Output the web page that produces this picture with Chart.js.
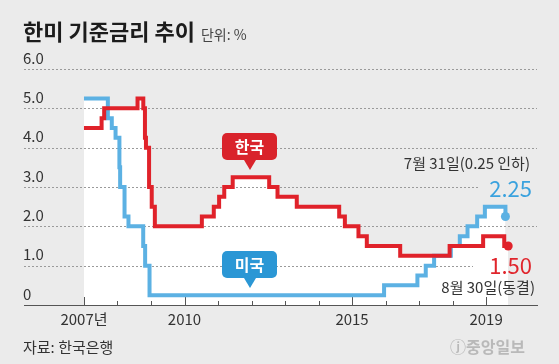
<!DOCTYPE html>
<html><head><meta charset="utf-8">
<script src="https://cdn.jsdelivr.net/npm/chart.js@4/dist/chart.umd.min.js"></script>
<style>
html,body{margin:0;padding:0;background:#ebebeb;}
body{width:559px;height:364px;position:relative;overflow:hidden;font-family:"Noto Sans CJK KR","Noto Sans",sans-serif;color:#333;}
canvas{position:absolute;left:0;top:0;}
.t{position:absolute;white-space:nowrap;line-height:1;}
.title{left:23px;top:19px;font-size:22px;font-weight:700;color:#1c1c1c;}
.title span{font-size:14px;font-weight:400;color:#444;margin-left:6px;}
.note{font-size:15px;color:#333;}
.big{font-size:22px;}
.bub{position:absolute;width:55px;height:27px;border-radius:5px;color:#fff;font-weight:700;font-size:16px;line-height:27px;text-align:center;}
.bub:after{content:"";position:absolute;left:50%;margin-left:-6px;top:27px;border-left:6px solid transparent;border-right:6px solid transparent;border-top:10px solid;}
.kr{background:#d9232b;}
.kr:after{border-top-color:#d9232b;}
.us{background:#2b97d5;}
.us:after{border-top-color:#2b97d5;}
</style></head><body>
<canvas id="c" width="559" height="364"></canvas>
<div class="t title">한미 기준금리 추이<span>단위: %</span></div>
<div class="bub kr" style="left:222px;top:133px;">한국</div>
<div class="bub us" style="left:222px;top:251px;">미국</div>
<div class="t note" style="right:29px;top:155px;">7월 31일(0.25 인하)</div>
<div class="t big" style="right:27px;top:176px;color:#3aa2de;">2.25</div>
<div class="t big" style="right:27px;top:253px;color:#e0252c;">1.50</div>
<div class="t note" style="right:24px;top:279px;">8월 30일(동결)</div>
<div class="t note" style="left:23px;top:339px;">자료: 한국은행</div>
<div class="t" style="left:450px;top:338px;font-size:16px;font-weight:700;color:#b9b9b9;">ⓙ중앙일보</div>
<script>
// Korea base rate (change dates, %)
const koreaDates = ['2007-01-01','2007-07-12','2007-08-09','2008-08-07','2008-10-09','2008-10-27','2008-11-07','2008-12-11','2009-01-09','2009-02-12','2010-07-09','2010-11-16','2011-01-13','2011-03-10','2011-06-10','2012-07-12','2012-10-11','2013-05-09','2014-08-14','2014-10-15','2015-03-12','2015-06-11','2016-06-09','2017-11-30','2018-11-30','2019-07-18','2019-08-30'];
const koreaRates = [4.50,4.75,5.00,5.25,5.00,4.25,4.00,3.00,2.50,2.00,2.25,2.50,2.75,3.00,3.25,3.00,2.75,2.50,2.25,2.00,1.75,1.50,1.25,1.50,1.75,1.50,1.50];
// US federal funds target (upper bound, %)
const usDates = ['2007-01-01','2007-09-18','2007-10-31','2007-12-11','2008-01-22','2008-01-30','2008-03-18','2008-04-30','2008-10-08','2008-10-29','2008-12-16','2015-12-16','2016-12-14','2017-03-15','2017-06-14','2017-12-13','2018-03-21','2018-06-13','2018-09-26','2018-12-19','2019-07-31'];
const usRates = [5.25,4.75,4.50,4.25,3.50,3.00,2.25,2.00,1.50,1.00,0.25,0.50,0.75,1.00,1.25,1.50,1.75,2.00,2.25,2.50,2.25];
const yearTicks = [2007,2008,2009,2010,2011,2012,2013,2014,2015,2016,2017,2018,2019];
const labeledYears = [2007,2010,2015,2019];
const labeledYearText = ['2007년','2010','2015','2019'];
const yTickValues = [0,1,2,3,4,5,6];
const yTickLabels = ['0','1.0','2.0','3.0','4.0','5.0','6.0'];

function toYear(s){
  const [Y,M,D] = s.split('-').map(Number);
  const start = Date.UTC(Y,0,1), end = Date.UTC(Y+1,0,1);
  return Y + (Date.UTC(Y,M-1,D)-start)/(end-start);
}
const pts = (ds, rs) => ds.map((d,i)=>({x:toYear(d), y:rs[i]}));

const RED = '#e0222a', BLUE = '#5cb1e3';
const FONT = '"Noto Sans CJK KR","Noto Sans",sans-serif';

const decor = {
  id:'decor',
  beforeDatasetsDraw(chart){
    const {ctx, chartArea:a, scales:{x,y}} = chart;
    const gridStop = {3:480, 1:473};
    ctx.save();
    ctx.strokeStyle = '#9a9a9a'; ctx.lineWidth = 1; ctx.setLineDash([2,2]);
    yTickValues.forEach(v=>{
      if (v===0) return;
      const py = Math.round(y.getPixelForValue(v)) + 0.5;
      const end = gridStop[v] !== undefined ? gridStop[v] : a.right;
      ctx.beginPath(); ctx.moveTo(a.left, py); ctx.lineTo(end, py); ctx.stroke();
    });
    ctx.setLineDash([]);
    ctx.strokeStyle = '#555';
    yearTicks.forEach(yr=>{
      const px = Math.round(x.getPixelForValue(yr)) + 0.5;
      const len = labeledYears.includes(yr) ? 8 : 4;
      ctx.beginPath(); ctx.moveTo(px, a.bottom); ctx.lineTo(px, a.bottom - len); ctx.stroke();
    });
    ctx.restore();
  }
};

const lastDot = (n) => (c) => c.dataIndex === n-1 ? 4.5 : 0;

new Chart(document.getElementById('c'), {
  type:'line',
  data:{ datasets:[
    { label:'한국', data: pts(koreaDates, koreaRates), borderColor: RED, backgroundColor:'#ffffff',
      pointBackgroundColor: RED, pointBorderWidth:0, pointRadius: lastDot(koreaDates.length),
      borderWidth:4, stepped:true, fill:'origin', borderJoinStyle:'miter', borderCapStyle:'butt' },
    { label:'미국', data: pts(usDates, usRates), borderColor: BLUE, backgroundColor:'#ffffff',
      pointBackgroundColor: BLUE, pointBorderWidth:0, pointRadius: lastDot(usDates.length),
      borderWidth:4, stepped:true, fill:'origin', borderJoinStyle:'miter', borderCapStyle:'butt' }
  ]},
  options:{
    responsive:false, animation:false, devicePixelRatio:1, events:[],
    layout:{ padding:{left:24, right:22, top:69, bottom:29} },
    plugins:{ legend:{display:false}, tooltip:{enabled:false}, filler:{drawTime:'beforeDraw'} },
    scales:{
      x:{ type:'linear', min:2005.21, max:2020.52,
        afterBuildTicks: s => { s.ticks = yearTicks.map(v=>({value:v})); },
        afterFit: s => { s.height = 30; s.paddingLeft = 0; s.paddingRight = 0; },
        grid:{display:false, drawTicks:false},
        border:{display:true, color:'#555', width:1},
        ticks:{ padding:5, autoSkip:false, maxRotation:0, color:'#333', font:{size:15, family:FONT},
          labelOffset: c => (c.tick && c.tick.value === 2007) ? 5 : 0,
          callback: v => { const i = labeledYears.indexOf(v); return i < 0 ? '' : labeledYearText[i]; } }
      },
      y:{ min:0, max:6,
        afterBuildTicks: s => { s.ticks = yTickValues.map(v=>({value:v})); },
        afterFit: s => { s.width = 0; s.paddingTop = 0; s.paddingBottom = 0; },
        grid:{display:false, drawTicks:false},
        border:{display:false},
        ticks:{ mirror:true, padding:-1, labelOffset:-11, color:'#333', font:{size:15, family:FONT},
          callback: v => yTickLabels[yTickValues.indexOf(v)] }
      }
    }
  },
  plugins:[decor]
});
</script>
</body></html>
